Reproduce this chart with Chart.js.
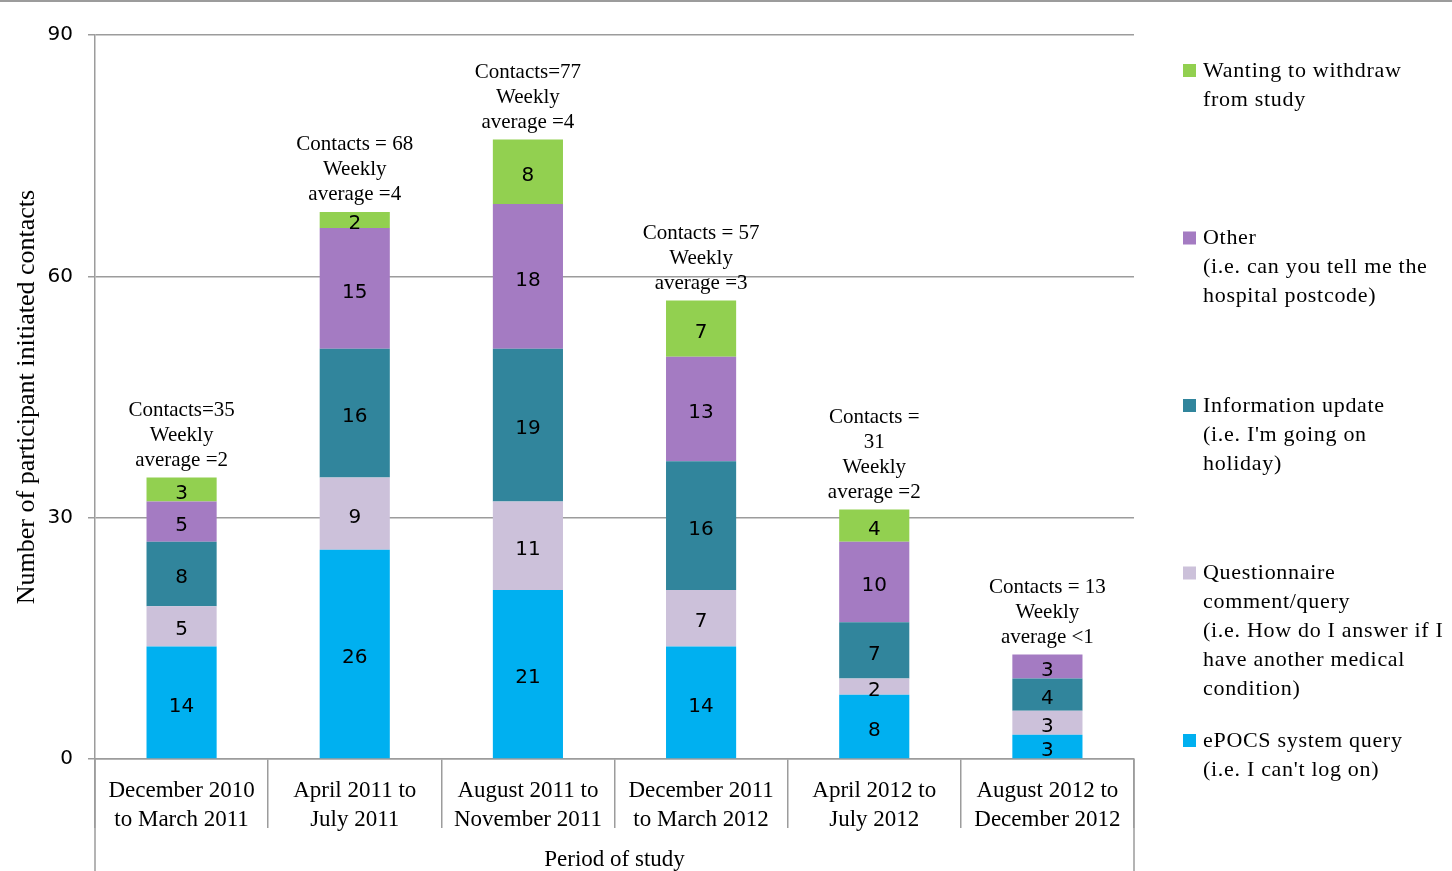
<!DOCTYPE html>
<html>
<head>
<meta charset="utf-8">
<script src="https://cdn.jsdelivr.net/npm/chart.js@4.4.0/dist/chart.umd.min.js"></script>
<style>
  html, body { margin: 0; padding: 0; background: #fff; }
  canvas { display: block; }
</style>
</head>
<body>
<canvas id="contactsChart" width="1452" height="871"></canvas>
<script>
// periods on the x axis (two lines each)
const periods = [
    ['December 2010', 'to March 2011'],
    ['April 2011 to', 'July 2011'],
    ['August 2011 to', 'November 2011'],
    ['December 2011', 'to March 2012'],
    ['April 2012 to', 'July 2012'],
    ['August 2012 to', 'December 2012']
];

// stacked series, bottom to top
const epocsQuery     = [14, 26, 21, 14, 8, 3];
const questionnaire  = [5, 9, 11, 7, 2, 3];
const infoUpdate     = [8, 16, 19, 16, 7, 4];
const otherQuery     = [5, 15, 18, 13, 10, 3];
const withdrawing    = [3, 2, 8, 7, 4, 0];

const yTicks = [0, 30, 60, 90];

// text shown above each bar
const barNotes = [
    ['Contacts=35', 'Weekly', 'average =2'],
    ['Contacts = 68', 'Weekly', 'average =4'],
    ['Contacts=77', 'Weekly', 'average =4'],
    ['Contacts = 57', 'Weekly', 'average =3'],
    ['Contacts =', '31', 'Weekly', 'average =2'],
    ['Contacts = 13', 'Weekly', 'average <1']
];

const seriesNames = [
    ['ePOCS system query', "(i.e. I can't log on)"],
    ['Questionnaire', 'comment/query', '(i.e. How do I answer if I', 'have another medical', 'condition)'],
    ['Information update', "(i.e. I'm going on", 'holiday)'],
    ['Other', '(i.e. can you tell me the', 'hospital postcode)'],
    ['Wanting to withdraw', 'from study']
];
const seriesColors = ['#00B0F0', '#CCC1DA', '#31859C', '#A47BC2', '#92D050'];

const SERIF = '"Liberation Serif", "Times New Roman", serif';
const SANS = '"DejaVu Sans", sans-serif';
const AXIS_GREY = '#9c9c9c';

const extrasPlugin = {
    id: 'extras',
    beforeDraw(chart) {
        const ctx = chart.ctx;
        ctx.save();
        ctx.fillStyle = '#fff';
        ctx.fillRect(0, 0, chart.width, chart.height);
        ctx.strokeStyle = AXIS_GREY;
        ctx.lineWidth = 2;
        ctx.beginPath();
        ctx.moveTo(0, 1);
        ctx.lineTo(chart.width, 1);
        ctx.stroke();
        ctx.restore();
    },
    afterDatasetsDraw(chart) {
        const ctx = chart.ctx;
        ctx.save();
        // values inside segments
        ctx.font = '20px ' + SANS;
        ctx.fillStyle = '#000';
        ctx.textAlign = 'center';
        ctx.textBaseline = 'middle';
        chart.data.datasets.forEach((ds, di) => {
            const meta = chart.getDatasetMeta(di);
            meta.data.forEach((bar, i) => {
                const v = ds.data[i];
                if (!v) return;
                const mid = (bar.y + bar.base) / 2;
                ctx.fillText(String(v), bar.x, mid + 4);
            });
        });
        // notes above stacks
        const topMeta = chart.getDatasetMeta(chart.data.datasets.length - 1);
        const yScale = chart.scales.y;
        ctx.font = '21px ' + SERIF;
        barNotes.forEach((lines, i) => {
            let total = 0;
            chart.data.datasets.forEach(ds => { total += ds.data[i]; });
            const x = topMeta.data[i].x;
            const top = yScale.getPixelForValue(total);
            const lh = 25;
            lines.forEach((line, k) => {
                const y = top - 17 - (lines.length - 1 - k) * lh;
                ctx.fillText(line, x, y);
            });
        });
        ctx.restore();
    },
    afterDraw(chart) {
        const ctx = chart.ctx;
        const area = chart.chartArea;
        ctx.save();
        // outer separators run down to the bottom edge
        ctx.strokeStyle = AXIS_GREY;
        ctx.lineWidth = 1.5;
        ctx.beginPath();
        ctx.moveTo(area.left, area.bottom);
        ctx.lineTo(area.left, chart.height);
        ctx.moveTo(area.right, area.bottom);
        ctx.lineTo(area.right, chart.height);
        ctx.stroke();

        // legend, top item = last dataset
        ctx.font = '22px ' + SERIF;
        ctx.letterSpacing = '0.7px';
        ctx.textAlign = 'left';
        ctx.textBaseline = 'middle';
        const n = chart.data.datasets.length;
        for (let k = 0; k < n; k++) {
            const di = n - 1 - k;
            const ds = chart.data.datasets[di];
            const y0 = 71 + k * 167.5;
            ctx.fillStyle = ds.backgroundColor;
            ctx.fillRect(1183, y0 - 7, 13, 13);
            ctx.fillStyle = '#000';
            seriesNames[di].forEach((line, j) => {
                ctx.fillText(line, 1203, y0 + j * 29);
            });
        }
        ctx.restore();
    }
};

document.addEventListener('DOMContentLoaded', function() {
    const ctx = document.getElementById('contactsChart').getContext('2d');
    const values = [epocsQuery, questionnaire, infoUpdate, otherQuery, withdrawing];

    new Chart(ctx, {
        type: 'bar',
        data: {
            labels: periods,
            datasets: values.map((vals, i) => ({
                label: seriesNames[i][0],
                data: vals,
                backgroundColor: seriesColors[i],
                borderWidth: 0,
                barPercentage: 0.405,
                categoryPercentage: 1
            }))
        },
        options: {
            responsive: false,
            animation: false,
            devicePixelRatio: 1,
            layout: { padding: { left: 0, right: 318, top: 35, bottom: 0 } },
            plugins: {
                legend: { display: false },
                tooltip: { enabled: false }
            },
            scales: {
                x: {
                    stacked: true,
                    afterFit: s => { s.height = 112; },
                    border: { display: true, color: AXIS_GREY, width: 1.5 },
                    grid: {
                        offset: true,
                        drawOnChartArea: false,
                        color: AXIS_GREY,
                        lineWidth: 1.5,
                        tickLength: 69
                    },
                    ticks: {
                        color: '#000',
                        font: { family: SERIF, size: 23, lineHeight: 1.25 },
                        padding: -51,
                        maxRotation: 0,
                        autoSkip: false
                    },
                    title: {
                        display: true,
                        text: 'Period of study',
                        color: '#000',
                        font: { family: SERIF, size: 23 },
                        padding: { top: 0, bottom: -3 }
                    }
                },
                y: {
                    stacked: true,
                    min: 0,
                    max: 90,
                    afterFit: s => { s.width = 95; s.paddingTop = 0; s.paddingBottom = 0; },
                    afterBuildTicks: s => { s.ticks = yTicks.map(v => ({ value: v })); },
                    border: { display: true, color: AXIS_GREY, width: 1.5 },
                    grid: {
                        color: AXIS_GREY,
                        lineWidth: 1.5,
                        tickLength: 7
                    },
                    ticks: {
                        color: '#000',
                        font: { family: SANS, size: 20 },
                        padding: 15
                    },
                    title: {
                        display: true,
                        text: 'Number of participant initiated contacts',
                        color: '#000',
                        font: { family: SERIF, size: 26 },
                        padding: { top: 12, bottom: 0 }
                    }
                }
            }
        },
        plugins: [extrasPlugin]
    });
});
</script>
</body>
</html>
